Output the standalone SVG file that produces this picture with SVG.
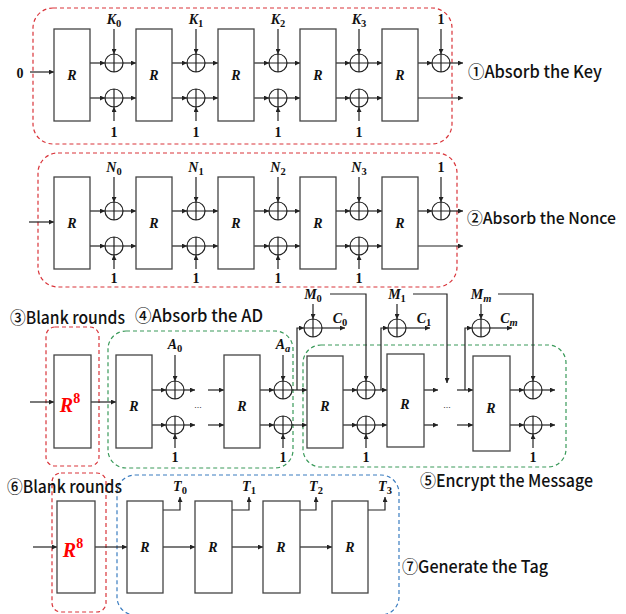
<svg xmlns="http://www.w3.org/2000/svg" width="626" height="614" viewBox="0 0 626 614">
<defs>
<marker id="ah" viewBox="0 0 6 6" refX="6" refY="3" markerWidth="5" markerHeight="5" markerUnits="userSpaceOnUse" orient="auto"><path d="M0,0 L6,3 L0,6 z" fill="#222"/></marker>
</defs>
<style>
.box{fill:#fff;stroke:#444;stroke-width:1.3}
.x{fill:none;stroke:#222;stroke-width:1.2}
.c{fill:none;stroke:#222;stroke-width:1.2}
.a{marker-end:url(#ah)}
.m{font-family:"Liberation Serif",serif;font-weight:bold;font-style:italic;font-size:14px;fill:#111;text-anchor:middle}
.s{font-style:normal;font-size:10.5px}
.si{font-style:italic;font-size:10.5px}
.n{font-family:"Liberation Serif",serif;font-weight:bold;font-size:14px;fill:#111;text-anchor:middle}
.r8{font-family:"Liberation Serif",serif;font-weight:bold;font-style:italic;font-size:20px;fill:#f00;text-anchor:middle}
.t{font-family:"Noto Sans CJK SC","Noto Sans",sans-serif;font-size:17px;font-weight:500;fill:#111}
.dr{fill:none;stroke:#d9343a;stroke-width:1.2;stroke-dasharray:4 3}
.dg{fill:none;stroke:#3a9a5a;stroke-width:1.2;stroke-dasharray:4 3}
.db{fill:none;stroke:#3b7dc0;stroke-width:1.2;stroke-dasharray:4 3}
</style>

<!-- group borders -->
<g id="borders">
<rect class="dr" x="33" y="8" width="419" height="136" rx="20"/>
<rect class="dr" x="38" y="153" width="419" height="134" rx="20"/>
<rect class="dr" x="46" y="327" width="53" height="139" rx="9"/>
<rect class="dg" x="108" y="331" width="185" height="137" rx="18"/>
<rect class="dg" x="303" y="345" width="263" height="122" rx="18"/>
<rect class="dr" x="52" y="473" width="54" height="139" rx="9"/>
<rect class="db" x="117" y="475" width="282" height="140" rx="18"/>
</g>

<!-- section titles -->
<g id="titles">
<text class="t" x="468" y="78" textLength="134" lengthAdjust="spacingAndGlyphs">①Absorb the Key</text>
<text class="t" x="467" y="224" font-size="16" style="font-size:16px" textLength="149" lengthAdjust="spacingAndGlyphs">②Absorb the Nonce</text>
<text class="t" x="10" y="324" textLength="115" lengthAdjust="spacingAndGlyphs">③Blank rounds</text>
<text class="t" x="135" y="322" textLength="128" lengthAdjust="spacingAndGlyphs">④Absorb the AD</text>
<text class="t" x="420" y="487" textLength="173" lengthAdjust="spacingAndGlyphs">⑤Encrypt the Message</text>
<text class="t" x="7" y="493" textLength="115" lengthAdjust="spacingAndGlyphs">⑥Blank rounds</text>
<text class="t" x="402" y="573" textLength="146" lengthAdjust="spacingAndGlyphs">⑦Generate the Tag</text>
</g>

<!-- connectors -->
<g id="connectors">
<!-- section 1 -->
<line class="c a" x1="30" y1="72" x2="54" y2="72"/>
<line class="c a" x1="90" y1="63" x2="105" y2="63"/><line class="c a" x1="123" y1="63" x2="136" y2="63"/>
<line class="c a" x1="90" y1="98" x2="105" y2="98"/><line class="c a" x1="123" y1="98" x2="136" y2="98"/>
<line class="c a" x1="172" y1="63" x2="187" y2="63"/><line class="c a" x1="205" y1="63" x2="218" y2="63"/>
<line class="c a" x1="172" y1="98" x2="187" y2="98"/><line class="c a" x1="205" y1="98" x2="218" y2="98"/>
<line class="c a" x1="254" y1="63" x2="269" y2="63"/><line class="c a" x1="287" y1="63" x2="300" y2="63"/>
<line class="c a" x1="254" y1="98" x2="269" y2="98"/><line class="c a" x1="287" y1="98" x2="300" y2="98"/>
<line class="c a" x1="336" y1="63" x2="350" y2="63"/><line class="c a" x1="368" y1="63" x2="382" y2="63"/>
<line class="c a" x1="336" y1="98" x2="350" y2="98"/><line class="c a" x1="368" y1="98" x2="382" y2="98"/>
<line class="c a" x1="418" y1="63" x2="432" y2="63"/><line class="c a" x1="450" y1="63" x2="463" y2="63"/>
<line class="c a" x1="418" y1="98" x2="463" y2="98"/>
<line class="c a" x1="114" y1="29" x2="114" y2="54"/><line class="c a" x1="114" y1="121" x2="114" y2="107"/>
<line class="c a" x1="196" y1="29" x2="196" y2="54"/><line class="c a" x1="196" y1="121" x2="196" y2="107"/>
<line class="c a" x1="278" y1="29" x2="278" y2="54"/><line class="c a" x1="278" y1="121" x2="278" y2="107"/>
<line class="c a" x1="359" y1="29" x2="359" y2="54"/><line class="c a" x1="359" y1="121" x2="359" y2="107"/>
<line class="c a" x1="441" y1="29" x2="441" y2="54"/>
<!-- section 2 -->
<g transform="translate(0,148)">
<line class="c a" x1="29" y1="74" x2="54" y2="74"/>
<line class="c a" x1="90" y1="63" x2="105" y2="63"/><line class="c a" x1="123" y1="63" x2="136" y2="63"/>
<line class="c a" x1="90" y1="98" x2="105" y2="98"/><line class="c a" x1="123" y1="98" x2="136" y2="98"/>
<line class="c a" x1="172" y1="63" x2="187" y2="63"/><line class="c a" x1="205" y1="63" x2="218" y2="63"/>
<line class="c a" x1="172" y1="98" x2="187" y2="98"/><line class="c a" x1="205" y1="98" x2="218" y2="98"/>
<line class="c a" x1="254" y1="63" x2="269" y2="63"/><line class="c a" x1="287" y1="63" x2="300" y2="63"/>
<line class="c a" x1="254" y1="98" x2="269" y2="98"/><line class="c a" x1="287" y1="98" x2="300" y2="98"/>
<line class="c a" x1="336" y1="63" x2="350" y2="63"/><line class="c a" x1="368" y1="63" x2="382" y2="63"/>
<line class="c a" x1="336" y1="98" x2="350" y2="98"/><line class="c a" x1="368" y1="98" x2="382" y2="98"/>
<line class="c a" x1="418" y1="63" x2="432" y2="63"/><line class="c a" x1="450" y1="63" x2="463" y2="63"/>
<line class="c a" x1="418" y1="98" x2="463" y2="98"/>
<line class="c a" x1="114" y1="29" x2="114" y2="54"/><line class="c a" x1="114" y1="121" x2="114" y2="107"/>
<line class="c a" x1="196" y1="29" x2="196" y2="54"/><line class="c a" x1="196" y1="121" x2="196" y2="107"/>
<line class="c a" x1="278" y1="29" x2="278" y2="54"/><line class="c a" x1="278" y1="121" x2="278" y2="107"/>
<line class="c a" x1="359" y1="29" x2="359" y2="54"/><line class="c a" x1="359" y1="121" x2="359" y2="107"/>
<line class="c a" x1="441" y1="29" x2="441" y2="54"/>
</g>
<!-- section 3: AD -->
<line class="c a" x1="30" y1="402" x2="54" y2="402"/>
<line class="c a" x1="91" y1="402" x2="116" y2="402"/>
<line class="c a" x1="152" y1="390" x2="166" y2="390"/><line class="c a" x1="184" y1="390" x2="195" y2="390"/>
<line class="c a" x1="152" y1="425" x2="166" y2="425"/><line class="c a" x1="184" y1="425" x2="195" y2="425"/>
<line class="c a" x1="208" y1="390" x2="224" y2="390"/><line class="c a" x1="208" y1="425" x2="224" y2="425"/>
<line class="c a" x1="260" y1="390" x2="274" y2="390"/><line class="c a" x1="292" y1="390" x2="307" y2="390"/>
<line class="c a" x1="260" y1="425" x2="274" y2="425"/><line class="c a" x1="292" y1="425" x2="307" y2="425"/>
<line class="c a" x1="175" y1="355" x2="175" y2="381"/><line class="c a" x1="175" y1="448" x2="175" y2="434"/>
<line class="c a" x1="283" y1="355" x2="283" y2="381"/><line class="c a" x1="283" y1="448" x2="283" y2="434"/>
<!-- encrypt -->
<polyline class="c a" points="297,390 297,328 304,328"/>
<line class="c a" x1="313" y1="304" x2="313" y2="319"/>
<line class="c a" x1="322" y1="328" x2="345" y2="328"/>
<polyline class="c a" points="330,294 366,294 366,381"/>
<line class="c a" x1="343" y1="390" x2="357" y2="390"/><line class="c a" x1="375" y1="390" x2="387" y2="390"/>
<line class="c a" x1="343" y1="425" x2="357" y2="425"/><line class="c a" x1="375" y1="425" x2="387" y2="425"/>
<line class="c a" x1="366" y1="448" x2="366" y2="434"/>
<polyline class="c a" points="381,390 381,328 388,328"/>
<line class="c a" x1="397" y1="304" x2="397" y2="319"/>
<line class="c a" x1="406" y1="328" x2="430" y2="328"/>
<polyline class="c a" points="413,294 447,294 447,383"/>
<line class="c a" x1="424" y1="390" x2="438" y2="390"/><line class="c a" x1="424" y1="425" x2="438" y2="425"/>
<line class="c a" x1="457" y1="390" x2="473" y2="390"/><line class="c a" x1="457" y1="425" x2="473" y2="425"/>
<polyline class="c a" points="465,390 465,328 472,328"/>
<line class="c a" x1="481" y1="304" x2="481" y2="319"/>
<line class="c a" x1="490" y1="328" x2="512" y2="328"/>
<polyline class="c a" points="498,294 533,294 533,381"/>
<line class="c a" x1="510" y1="390" x2="524" y2="390"/><line class="c a" x1="542" y1="390" x2="555" y2="390"/>
<line class="c a" x1="510" y1="425" x2="524" y2="425"/><line class="c a" x1="542" y1="425" x2="555" y2="425"/>
<line class="c a" x1="533" y1="448" x2="533" y2="434"/>
<!-- tag -->
<line class="c a" x1="33" y1="547" x2="57" y2="547"/>
<line class="c a" x1="95" y1="547" x2="127" y2="547"/>
<line class="c a" x1="163" y1="547" x2="195" y2="547"/>
<line class="c a" x1="232" y1="547" x2="263" y2="547"/>
<line class="c a" x1="300" y1="547" x2="332" y2="547"/>
<polyline class="c a" points="163,510 180,510 180,497"/>
<polyline class="c a" points="232,510 249,510 249,497"/>
<polyline class="c a" points="300,510 316,510 316,497"/>
<polyline class="c a" points="368,510 385,510 385,497"/>
</g>

<!-- section 1 nodes -->
<g id="s1">
<text class="n" x="20" y="78">0</text>
<g id="s1r0"><rect class="box" x="54" y="29" width="36" height="92"/><text class="m" x="72" y="80">R</text></g>
<g id="s1r1"><rect class="box" x="136" y="29" width="36" height="92"/><text class="m" x="154" y="80">R</text></g>
<g id="s1r2"><rect class="box" x="218" y="29" width="36" height="92"/><text class="m" x="236" y="80">R</text></g>
<g id="s1r3"><rect class="box" x="300" y="29" width="36" height="92"/><text class="m" x="318" y="80">R</text></g>
<g id="s1r4"><rect class="box" x="382" y="29" width="36" height="92"/><text class="m" x="400" y="80">R</text></g>
<g id="s1x"><path class="x" d="M105,63a9,9 0 1,0 18,0a9,9 0 1,0 -18,0M114,54v18M105,63h18 M105,98a9,9 0 1,0 18,0a9,9 0 1,0 -18,0M114,89v18M105,98h18 M187,63a9,9 0 1,0 18,0a9,9 0 1,0 -18,0M196,54v18M187,63h18 M187,98a9,9 0 1,0 18,0a9,9 0 1,0 -18,0M196,89v18M187,98h18 M269,63a9,9 0 1,0 18,0a9,9 0 1,0 -18,0M278,54v18M269,63h18 M269,98a9,9 0 1,0 18,0a9,9 0 1,0 -18,0M278,89v18M269,98h18 M350,63a9,9 0 1,0 18,0a9,9 0 1,0 -18,0M359,54v18M350,63h18 M350,98a9,9 0 1,0 18,0a9,9 0 1,0 -18,0M359,89v18M350,98h18 M432,63a9,9 0 1,0 18,0a9,9 0 1,0 -18,0M441,54v18M432,63h18"/></g>
<text class="m" x="114" y="24">K<tspan class="s" dy="3">0</tspan></text>
<text class="m" x="196" y="24">K<tspan class="s" dy="3">1</tspan></text>
<text class="m" x="278" y="24">K<tspan class="s" dy="3">2</tspan></text>
<text class="m" x="359" y="24">K<tspan class="s" dy="3">3</tspan></text>
<text class="n" x="441" y="24">1</text>
<text class="n" x="114" y="137">1</text><text class="n" x="196" y="137">1</text><text class="n" x="278" y="137">1</text><text class="n" x="359" y="137">1</text>
</g>

<!-- section 2 nodes -->
<g id="s2" transform="translate(0,148)">
<g id="s2r0"><rect class="box" x="54" y="29" width="36" height="92"/><text class="m" x="72" y="80">R</text></g>
<g id="s2r1"><rect class="box" x="136" y="29" width="36" height="92"/><text class="m" x="154" y="80">R</text></g>
<g id="s2r2"><rect class="box" x="218" y="29" width="36" height="92"/><text class="m" x="236" y="80">R</text></g>
<g id="s2r3"><rect class="box" x="300" y="29" width="36" height="92"/><text class="m" x="318" y="80">R</text></g>
<g id="s2r4"><rect class="box" x="382" y="29" width="36" height="92"/><text class="m" x="400" y="80">R</text></g>
<g id="s2x"><path class="x" d="M105,63a9,9 0 1,0 18,0a9,9 0 1,0 -18,0M114,54v18M105,63h18 M105,98a9,9 0 1,0 18,0a9,9 0 1,0 -18,0M114,89v18M105,98h18 M187,63a9,9 0 1,0 18,0a9,9 0 1,0 -18,0M196,54v18M187,63h18 M187,98a9,9 0 1,0 18,0a9,9 0 1,0 -18,0M196,89v18M187,98h18 M269,63a9,9 0 1,0 18,0a9,9 0 1,0 -18,0M278,54v18M269,63h18 M269,98a9,9 0 1,0 18,0a9,9 0 1,0 -18,0M278,89v18M269,98h18 M350,63a9,9 0 1,0 18,0a9,9 0 1,0 -18,0M359,54v18M350,63h18 M350,98a9,9 0 1,0 18,0a9,9 0 1,0 -18,0M359,89v18M350,98h18 M432,63a9,9 0 1,0 18,0a9,9 0 1,0 -18,0M441,54v18M432,63h18"/></g>
<text class="m" x="114" y="24">N<tspan class="s" dy="3">0</tspan></text>
<text class="m" x="196" y="24">N<tspan class="s" dy="3">1</tspan></text>
<text class="m" x="278" y="24">N<tspan class="s" dy="3">2</tspan></text>
<text class="m" x="359" y="24">N<tspan class="s" dy="3">3</tspan></text>
<text class="n" x="441" y="24">1</text>
<text class="n" x="114" y="135">1</text><text class="n" x="196" y="135">1</text><text class="n" x="278" y="135">1</text><text class="n" x="359" y="135">1</text>
</g>

<!-- section 3 nodes -->
<g id="blank1"><rect class="box" x="54" y="355" width="37" height="93"/><text class="r8" x="70" y="412">R<tspan font-style="normal" font-size="14" dy="-9">8</tspan></text></g>
<g id="ad">
<g id="adr0"><rect class="box" x="116" y="355" width="36" height="93"/><text class="m" x="134" y="411">R</text></g>
<g id="adr1"><rect class="box" x="224" y="355" width="36" height="93"/><text class="m" x="242" y="411">R</text></g>
<path class="x" d="M166,390a9,9 0 1,0 18,0a9,9 0 1,0 -18,0M175,381v18M166,390h18 M166,425a9,9 0 1,0 18,0a9,9 0 1,0 -18,0M175,416v18M166,425h18 M274,390a9,9 0 1,0 18,0a9,9 0 1,0 -18,0M283,381v18M274,390h18 M274,425a9,9 0 1,0 18,0a9,9 0 1,0 -18,0M283,416v18M274,425h18"/>
<text class="m" x="175" y="349">A<tspan class="s" dy="3">0</tspan></text>
<text class="m" x="283" y="349">A<tspan class="si" dy="3">a</tspan></text>
<text class="n" x="175" y="462">1</text><text class="n" x="283" y="462">1</text>
<text x="198" y="408" font-family="Liberation Sans,sans-serif" font-size="9" fill="#333" text-anchor="middle">...</text>
</g>
<g id="enc">
<g id="encr0"><rect class="box" x="307" y="356" width="36" height="92"/><text class="m" x="325" y="411">R</text></g>
<g id="encr1"><rect class="box" x="387" y="354" width="37" height="93"/><text class="m" x="405" y="409">R</text></g>
<g id="encr2"><rect class="box" x="473" y="356" width="37" height="95"/><text class="m" x="491" y="413">R</text></g>
<path class="x" d="M304,328a9,9 0 1,0 18,0a9,9 0 1,0 -18,0M313,319v18M304,328h18 M388,328a9,9 0 1,0 18,0a9,9 0 1,0 -18,0M397,319v18M388,328h18 M472,328a9,9 0 1,0 18,0a9,9 0 1,0 -18,0M481,319v18M472,328h18 M357,390a9,9 0 1,0 18,0a9,9 0 1,0 -18,0M366,381v18M357,390h18 M357,425a9,9 0 1,0 18,0a9,9 0 1,0 -18,0M366,416v18M357,425h18 M524,390a9,9 0 1,0 18,0a9,9 0 1,0 -18,0M533,381v18M524,390h18 M524,425a9,9 0 1,0 18,0a9,9 0 1,0 -18,0M533,416v18M524,425h18"/>
<text class="m" x="313" y="299">M<tspan class="s" dy="3">0</tspan></text>
<text class="m" x="397" y="299">M<tspan class="s" dy="3">1</tspan></text>
<text class="m" x="481" y="299">M<tspan class="si" dy="3">m</tspan></text>
<text class="m" x="340" y="323">C<tspan class="s" dy="3">0</tspan></text>
<text class="m" x="424" y="323">C<tspan class="s" dy="3">1</tspan></text>
<text class="m" x="509" y="323">C<tspan class="si" dy="3">m</tspan></text>
<text class="n" x="366" y="462">1</text><text class="n" x="533" y="462">1</text>
<text x="447" y="408" font-family="Liberation Sans,sans-serif" font-size="9" fill="#333" text-anchor="middle">...</text>
</g>

<!-- section 4 nodes -->
<g id="blank2"><rect class="box" x="57" y="501" width="38" height="92"/><text class="r8" x="73" y="557">R<tspan font-style="normal" font-size="14" dy="-9">8</tspan></text></g>
<g id="tag">
<g id="tr0"><rect class="box" x="127" y="501" width="36" height="92"/><text class="m" x="145" y="552">R</text></g>
<g id="tr1"><rect class="box" x="195" y="501" width="37" height="92"/><text class="m" x="213" y="552">R</text></g>
<g id="tr2"><rect class="box" x="263" y="501" width="37" height="92"/><text class="m" x="281" y="552">R</text></g>
<g id="tr3"><rect class="box" x="332" y="501" width="36" height="92"/><text class="m" x="350" y="552">R</text></g>
<text class="m" x="180" y="491">T<tspan class="s" dy="3">0</tspan></text>
<text class="m" x="249" y="491">T<tspan class="s" dy="3">1</tspan></text>
<text class="m" x="316" y="491">T<tspan class="s" dy="3">2</tspan></text>
<text class="m" x="385" y="491">T<tspan class="s" dy="3">3</tspan></text>
</g>
</svg>
